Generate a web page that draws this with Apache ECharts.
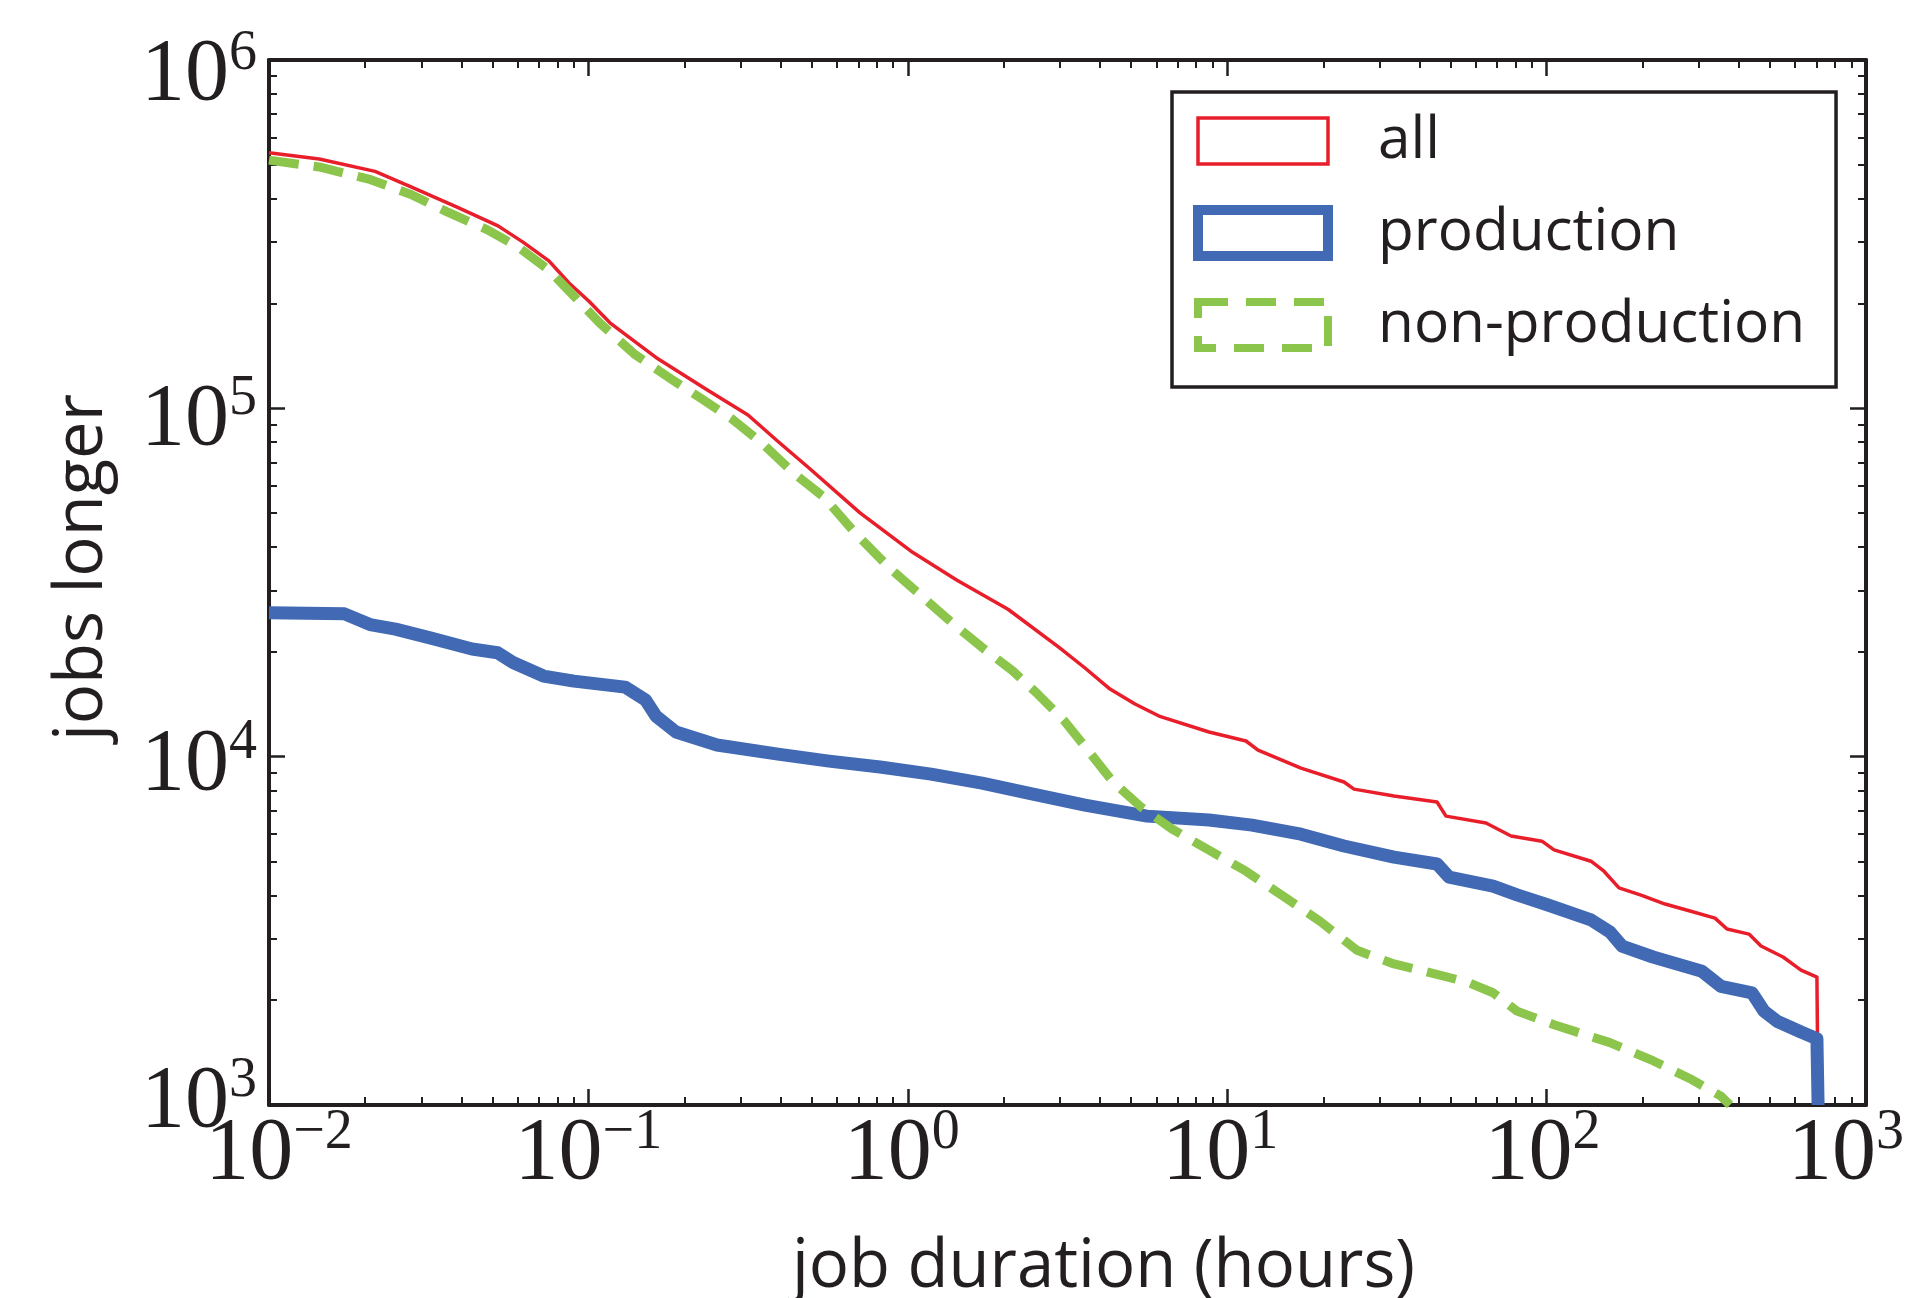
<!DOCTYPE html>
<html>
<head>
<meta charset="utf-8">
<script src="https://cdn.jsdelivr.net/npm/echarts@6/dist/echarts.min.js"></script>
<style>
html,body{margin:0;padding:0;background:#ffffff;}
#chart{width:1918px;height:1298px;}
</style>
</head>
<body>
<div id="chart"></div>
<script>
// ---- data ----
const allX = [0.01, 0.01436, 0.02148, 0.02784, 0.03879, 0.05212, 0.0624, 0.07522, 0.08696, 0.1004, 0.1168, 0.1627, 0.2351, 0.316, 0.3924, 0.4905, 0.7086, 1.023, 1.426, 2.059, 2.975, 3.587, 4.296, 5.144, 6.116, 8.77, 11.45, 12.49, 17.02, 23.21, 24.95, 33.28, 45.39, 48.42, 64.6, 77.4, 96.7, 105.5, 137.7, 151.2, 168.5, 197.5, 234.9, 281.2, 336.6, 367.1, 430.2, 469.1, 549.8, 626, 702, 708, 708];
const allY = [542000, 520000, 479000, 432000, 378000, 334000, 300000, 265000, 229000, 203000, 176000, 140000, 113000, 95700, 80300, 67400, 50100, 38900, 32100, 26500, 20600, 17970, 15630, 14160, 13080, 11770, 11090, 10440, 9270, 8460, 8070, 7710, 7410, 6750, 6450, 5920, 5720, 5400, 5010, 4690, 4200, 4005, 3775, 3604, 3440, 3200, 3095, 2860, 2660, 2440, 2330, 2300, 1000];

const prodX = [0.01, 0.01724, 0.02071, 0.02489, 0.03215, 0.04321, 0.05196, 0.05806, 0.07235, 0.09013, 0.1302, 0.151, 0.1627, 0.188, 0.2527, 0.3924, 0.5668, 0.8185, 1.182, 1.707, 2.466, 3.587, 5.61, 8.77, 11.96, 17.02, 23.21, 33.28, 45.39, 49.5, 67.96, 80.8, 101, 137.7, 157.9, 172.2, 215.3, 306.6, 351.6, 439.6, 479.3, 526.4, 626, 702, 708, 708];
const prodY = [25900, 25700, 23950, 23240, 21900, 20370, 19880, 18630, 17040, 16480, 15840, 14540, 13080, 11770, 10800, 10170, 9710, 9340, 8910, 8400, 7810, 7260, 6750, 6580, 6360, 5990, 5540, 5150, 4920, 4510, 4250, 4010, 3750, 3400, 3140, 2860, 2660, 2420, 2190, 2100, 1860, 1740, 1620, 1550, 1530, 1000];

const nonX = [0.01, 0.01436, 0.02071, 0.02784, 0.03597, 0.04814, 0.06019, 0.07504, 0.09013, 0.1084, 0.1399, 0.1814, 0.2268, 0.2816, 0.3521, 0.4386, 0.5465, 0.6834, 0.8826, 1.0998, 1.371, 1.707, 2.135, 2.556, 3.083, 3.746, 4.39, 5.373, 6.718, 8.77, 11.45, 14.95, 19.52, 25.49, 33.28, 41.63, 56.74, 67.96, 80.8, 105.5, 157.9, 215.3, 281.2, 351.6, 375.1];
const nonY = [516000, 493000, 454000, 411000, 367000, 326000, 290500, 250000, 210000, 176000, 142700, 121400, 106300, 93200, 79000, 65200, 55600, 43900, 34600, 29000, 24300, 20600, 17600, 15100, 12700, 10170, 8460, 7170, 6200, 5390, 4690, 3980, 3370, 2780, 2540, 2420, 2250, 2100, 1860, 1700, 1510, 1340, 1190, 1060, 1000];

const seriesNames = ['all', 'production', 'non-production'];
const xTickExponents = [-2, -1, 0, 1, 2, 3];
const yTickExponents = [3, 4, 5, 6];
const minorMultipliers = [2, 3, 4, 5, 6, 7, 8, 9];

// ---- build ----
const zip = (xs, ys) => xs.map((x, i) => [x, ys[i]]);
const ink = '#231f20';
const RED = '#e81f2b', BLUE = '#4169b4', GREEN = '#8cc54b';

function minorLogs(exps) {
  const out = [];
  exps.slice(0, -1).forEach(e => minorMultipliers.forEach(m => out.push(e + Math.log10(m))));
  return out;
}
const xMinor = minorLogs(xTickExponents);
const yMinor = minorLogs(yTickExponents);

// label placement tweaks (pixels) to follow the reference's hand-placed labels
const xLabelDx = { '-2': 10, '-1': 0, '0': -6, '1': -7, '2': -4, '3': -20 };
const yLabelDy = { '3': 9, '4': 20, '5': 24, '6': 27 };

const key = e => (e < 0 ? 'm' + (-e) : String(e));
const baseB = { fontFamily: 'Liberation Serif', fontSize: 88, lineHeight: 110, color: ink, verticalAlign: 'top' };
const baseS = { fontFamily: 'Liberation Serif', fontSize: 56, lineHeight: 110, color: ink, verticalAlign: 'top' };

const xRich = {}, yRich = {};
xTickExponents.forEach(e => {
  const dx = xLabelDx[String(e)] || 0;
  xRich['b' + key(e)] = Object.assign({}, baseB, { padding: [6, 0, 0, dx > 0 ? 2 * dx : 0] });
  xRich['s' + key(e)] = Object.assign({}, baseS, { padding: [0, dx < 0 ? -2 * dx : 0, 0, 0] });
});
yTickExponents.forEach(e => {
  const pb = yLabelDy[String(e)] || 0;
  yRich['b' + key(e)] = Object.assign({}, baseB, { padding: [pb, 0, 0, 0] });
  yRich['s' + key(e)] = Object.assign({}, baseS, { padding: [Math.max(0, pb - 6), 0, 0, 0] });
});

function powLabel(v) {
  const e = Math.round(Math.log10(v));
  const k = key(e);
  return '{b' + k + '|10}{s' + k + '|' + String(e).replace('-', '\u2212') + '}';
}

const xMin = Math.pow(10, xTickExponents[0]), xMax = Math.pow(10, xTickExponents[xTickExponents.length - 1]);
const yMin = Math.pow(10, yTickExponents[0]), yMax = Math.pow(10, yTickExponents[yTickExponents.length - 1]);

const lineAx = { show: true, onZero: false, lineStyle: { color: ink, width: 4 } };
const majorTick = { show: true, inside: true, length: 16, lineStyle: { color: ink, width: 2.5 } };
const noLabel = { show: false };
const noSplit = { show: false };

function minorAxis(pos, min, max, vals) {
  return {
    type: 'value', position: pos, min: min, max: max,
    axisLine: { show: false, onZero: false }, splitLine: noSplit, axisLabel: noLabel,
    axisTick: { show: true, inside: true, length: 8, customValues: vals, lineStyle: { color: ink, width: 2 } }
  };
}

const chart = echarts.init(document.getElementById('chart'), null, { renderer: 'canvas' });
chart.setOption({
  animation: false,
  backgroundColor: '#ffffff',
  grid: { left: 269, top: 60, width: 1597, height: 1045, containLabel: false, outerBoundsMode: 'none' },
  xAxis: [
    {
      type: 'log', logBase: 10, position: 'bottom', min: xMin, max: xMax,
      axisLine: lineAx, axisTick: majorTick, splitLine: noSplit,
      axisLabel: { show: true, margin: 0, formatter: powLabel, rich: xRich, showMinLabel: true, showMaxLabel: true, hideOverlap: false },
      name: 'job duration (hours)', nameLocation: 'middle', nameGap: 129,
      nameTextStyle: { fontFamily: 'Open Sans', fontSize: 67, color: ink, padding: [0, 0, 0, 72] }
    },
    {
      type: 'log', logBase: 10, position: 'top', min: xMin, max: xMax,
      axisLine: lineAx, axisTick: majorTick, splitLine: noSplit, axisLabel: noLabel
    },
    minorAxis('bottom', xTickExponents[0], xTickExponents[xTickExponents.length - 1], xMinor),
    minorAxis('top', xTickExponents[0], xTickExponents[xTickExponents.length - 1], xMinor)
  ],
  yAxis: [
    {
      type: 'log', logBase: 10, position: 'left', min: yMin, max: yMax,
      axisLine: lineAx, axisTick: majorTick, splitLine: noSplit,
      axisLabel: { show: true, margin: 12, formatter: powLabel, rich: yRich, showMinLabel: true, showMaxLabel: true, hideOverlap: false },
      name: 'jobs longer', nameLocation: 'middle', nameGap: 153,
      nameTextStyle: { fontFamily: 'Open Sans', fontSize: 67, color: ink, padding: [0, 0, 0, 30] }
    },
    {
      type: 'log', logBase: 10, position: 'right', min: yMin, max: yMax,
      axisLine: lineAx, axisTick: majorTick, splitLine: noSplit, axisLabel: noLabel
    },
    minorAxis('left', yTickExponents[0], yTickExponents[yTickExponents.length - 1], yMinor),
    minorAxis('right', yTickExponents[0], yTickExponents[yTickExponents.length - 1], yMinor)
  ],
  legend: {
    orient: 'vertical', left: 1172, top: 92,
    selectedMode: false,
    backgroundColor: '#ffffff', borderColor: ink, borderWidth: 3.5, borderRadius: 0,
    padding: [3, 31, 16, 21],
    itemWidth: 130, itemHeight: 46, itemGap: 0,
    textStyle: { fontFamily: 'Open Sans', fontSize: 58.5, color: ink, lineHeight: 58, padding: [34, 0, 0, 45] },
    data: [
      { name: seriesNames[0], icon: 'rect', itemStyle: { color: '#ffffff', borderColor: RED, borderWidth: 3.5 } },
      { name: seriesNames[1], icon: 'rect', itemStyle: { color: '#ffffff', borderColor: BLUE, borderWidth: 10 } },
      { name: seriesNames[2], icon: 'rect', itemStyle: { color: '#ffffff', borderColor: GREEN, borderWidth: 8, borderType: [30, 18] } }
    ]
  },
  series: [
    {
      name: seriesNames[0], type: 'line', xAxisIndex: 0, yAxisIndex: 0,
      data: zip(allX, allY), showSymbol: false, symbol: 'none', clip: true,
      lineStyle: { color: RED, width: 3.5, join: 'round' }, itemStyle: { color: RED }
    },
    {
      name: seriesNames[1], type: 'line', xAxisIndex: 0, yAxisIndex: 0,
      data: zip(prodX, prodY), showSymbol: false, symbol: 'none', clip: true,
      lineStyle: { color: BLUE, width: 13, join: 'round' }, itemStyle: { color: BLUE }
    },
    {
      name: seriesNames[2], type: 'line', xAxisIndex: 0, yAxisIndex: 0,
      data: zip(nonX, nonY), showSymbol: false, symbol: 'none', clip: true,
      lineStyle: { color: GREEN, width: 9, type: [30, 15], join: 'round' }, itemStyle: { color: GREEN }
    }
  ]
});
</script>
</body>
</html>
